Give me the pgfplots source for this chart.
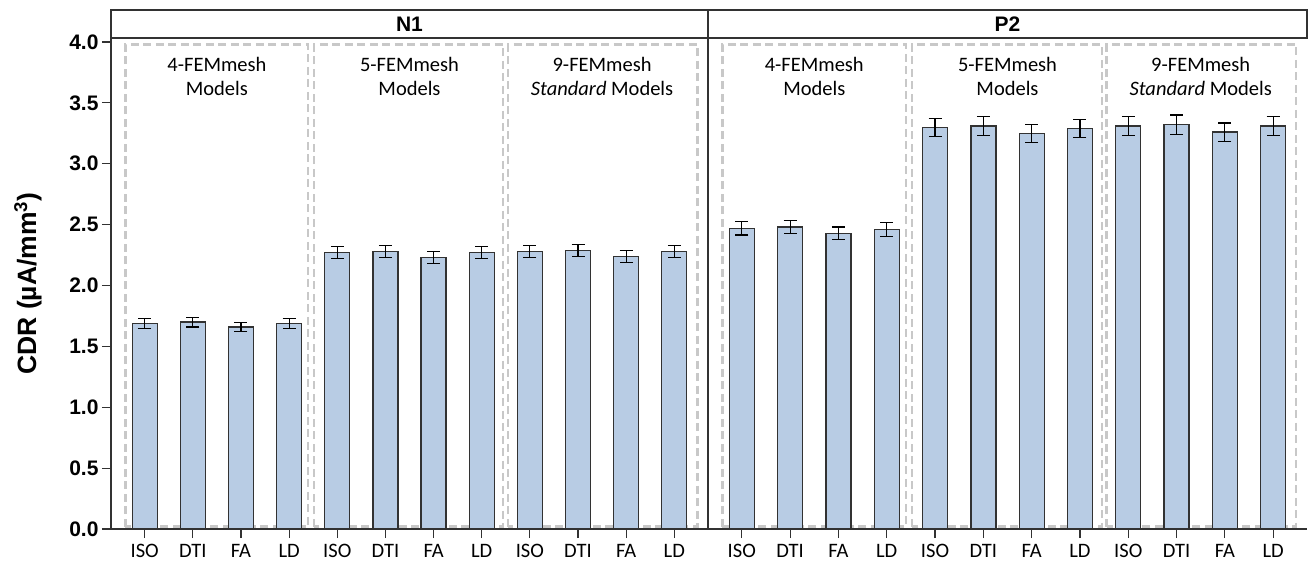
\documentclass[border=0pt]{standalone}
\usepackage{pgfplots}
\pgfplotsset{compat=1.18}
\usepackage{pgfplotstable}
\usepackage{fontspec}
\setmainfont{Liberation Sans}
\newfontfamily\calib{Carlito}
\definecolor{barblue}{RGB}{184,204,228}
\definecolor{boxgray}{RGB}{200,200,200}
\definecolor{edge}{RGB}{50,50,50}

\pgfplotstableread{
x y e
0 1.69 0.04
1 1.70 0.04
2 1.66 0.035
3 1.69 0.04
4 2.27 0.05
5 2.28 0.05
6 2.23 0.05
7 2.27 0.05
8 2.28 0.05
9 2.29 0.05
10 2.24 0.05
11 2.28 0.05
}\dataNone

\pgfplotstableread{
x y e
0 2.47 0.055
1 2.48 0.055
2 2.43 0.05
3 2.46 0.055
4 3.30 0.075
5 3.31 0.075
6 3.25 0.075
7 3.29 0.075
8 3.31 0.08
9 3.32 0.08
10 3.26 0.075
11 3.31 0.08
}\dataPtwo

\tikzset{
  gbox/.style={draw=boxgray, line width=2.2pt, dash pattern=on 8pt off 4.5pt},
  glabel/.style={font=\calib\fontsize{20.5}{24}\selectfont, align=center, anchor=center},
}

\pgfplotsset{
  panel/.style={
    scale only axis,
    height=491pt,
    ymin=0, ymax=4.033,
    xmin=-0.7, xmax=11.7,
    axis x line*=bottom,
    axis y line*=left,
    axis line style={-, line width=1.3pt, draw=edge},
    tick style={line width=1.2pt, draw=edge},
    tick align=outside,
    major tick length=9pt,
    xtick={0,...,11},
    xticklabels={ISO,DTI,FA,LD,ISO,DTI,FA,LD,ISO,DTI,FA,LD},
    xticklabel style={font=\calib\fontsize{20.5}{20.5}\selectfont, yshift=-3pt},
    clip=false,
    ybar,
    bar width=25pt,
  },
  barstyle/.style={
    fill=barblue, draw=edge, line width=1.3pt,
    error bars/.cd, y dir=both, y explicit,
    error bar style={line width=1.2pt, black},
    error mark options={rotate=90, mark size=6.5pt, line width=1.2pt, black},
  },
}

\begin{document}
\begin{tikzpicture}
\begin{axis}[panel, name=n1, at={(0,0)}, anchor=south west, width=597pt,
  ytick={0,0.5,...,4.0},
  /pgf/number format/assume math mode=true,
  yticklabel style={font=\bfseries\fontsize{21}{21}\selectfont, /pgf/number format/.cd, fixed, fixed zerofill, precision=1},
  ylabel={CDR (µA/mm\textsuperscript{3})},
  ylabel style={at={(axis description cs:0,0.5)}, anchor=center, yshift=83pt, font=\bfseries\fontsize{26.5}{26.5}\selectfont},
]
\draw[gbox] (axis cs:-0.40,0.02) rectangle (axis cs:3.40,3.98);
\draw[gbox] (axis cs:3.52,0.02) rectangle (axis cs:7.45,3.98);
\draw[gbox] (axis cs:7.55,0.02) rectangle (axis cs:11.48,3.98);
\addplot[barstyle] table[x=x, y=y, y error=e] {\dataNone};
\node[glabel] at (axis cs:1.5,3.72) {4-FEMmesh\\Models};
\node[glabel] at (axis cs:5.5,3.72) {5-FEMmesh\\Models};
\node[glabel] at (axis cs:9.5,3.72) {9-FEMmesh\\\textit{Standard} Models};
\draw[line width=1.3pt, draw=edge] (rel axis cs:0,1) rectangle (rel axis cs:1,1.057);
\node[font=\bfseries\fontsize{21}{21}\selectfont] at (rel axis cs:0.5,1.0285) {N1};
\end{axis}

\begin{axis}[panel, name=p2, at={(597pt,0)}, anchor=south west, width=599pt,
  ytick=\empty,
]
\draw[gbox] (axis cs:-0.40,0.02) rectangle (axis cs:3.40,3.98);
\draw[gbox] (axis cs:3.52,0.02) rectangle (axis cs:7.45,3.98);
\draw[gbox] (axis cs:7.55,0.02) rectangle (axis cs:11.48,3.98);
\addplot[barstyle] table[x=x, y=y, y error=e] {\dataPtwo};
\node[glabel] at (axis cs:1.5,3.72) {4-FEMmesh\\Models};
\node[glabel] at (axis cs:5.5,3.72) {5-FEMmesh\\Models};
\node[glabel] at (axis cs:9.5,3.72) {9-FEMmesh\\\textit{Standard} Models};
\draw[line width=1.3pt, draw=edge] (rel axis cs:0,1) rectangle (rel axis cs:1,1.057);
\node[font=\bfseries\fontsize{21}{21}\selectfont] at (rel axis cs:0.5,1.0285) {P2};
\end{axis}
\path (-111pt,-37pt) rectangle (1199pt,529pt);
\end{tikzpicture}
\end{document}
